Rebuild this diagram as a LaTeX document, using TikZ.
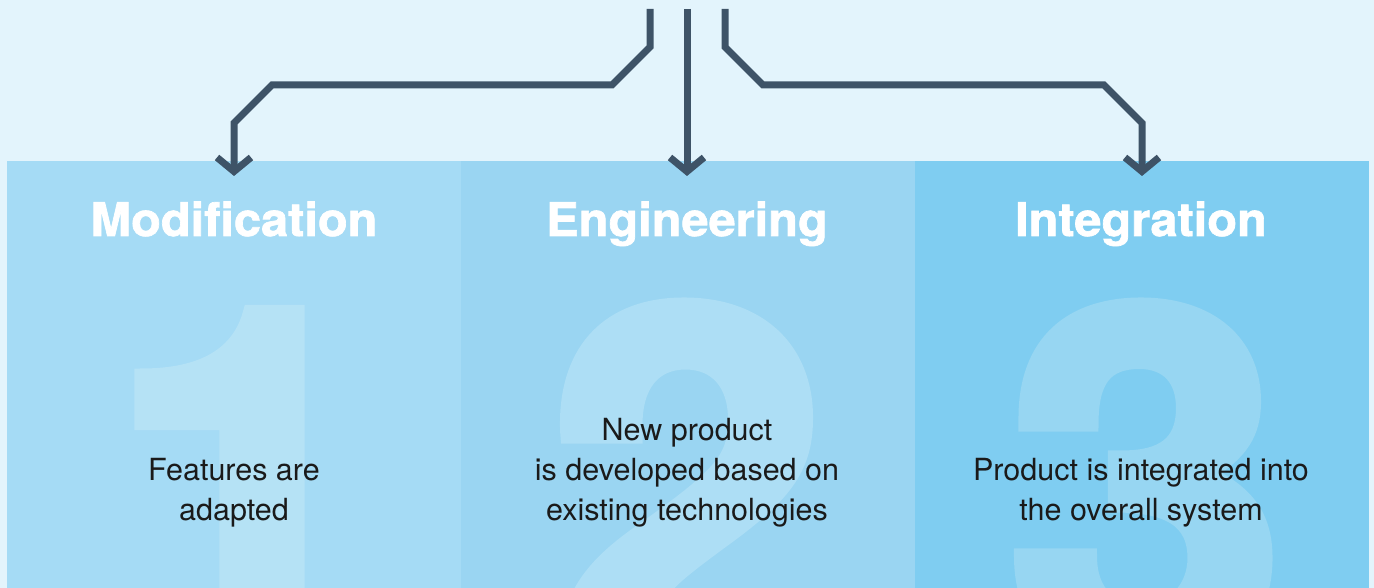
\documentclass[tikz,border=0pt]{standalone}
\usepackage{fontspec}
\setmainfont{TeX Gyre Heros}
\newfontfamily\heavyfont[FakeBold=1.5,FakeStretch=1.05]{TeX Gyre Heros Bold}
\newfontfamily\digitfont[FakeBold=3]{TeX Gyre Heros Bold}
\usetikzlibrary{arrows.meta}
\definecolor{bg}{HTML}{E3F4FC}
\definecolor{pa}{HTML}{A5DBF5}
\definecolor{pb}{HTML}{9AD5F2}
\definecolor{pc}{HTML}{7FCDF1}
\definecolor{da}{HTML}{B5E2F5}
\definecolor{db}{HTML}{ADDEF5}
\definecolor{dc}{HTML}{97D6F2}
\definecolor{ink}{HTML}{3E5367}
\definecolor{txt}{HTML}{1A1A1A}
\begin{document}
\begin{tikzpicture}[x=1pt,y=-1pt,
  conn/.style={draw=ink, line width=7pt, -{Straight Barb[length=14pt,width=34pt]}},
  title/.style={text=white, font=\fontsize{46.4}{46}\heavyfont, inner sep=0pt, anchor=base},
  body/.style={text=txt, font=\fontsize{30.5}{40}\selectfont, align=center, inner sep=0pt, anchor=base},
  digit/.style={font=\fontsize{500}{500}\digitfont, inner sep=0pt, anchor=base}]
\useasboundingbox (0,0) rectangle (1374,588);
\fill[bg] (0,0) rectangle (1374,588);
% panels
\fill[pa] (7,161) rectangle (461,588);
\fill[pb] (461,161) rectangle (915,588);
\fill[pc] (915,161) rectangle (1369,588);
% big digits
\begin{scope}
\clip (7,161) rectangle (461,588);
\node[digit, text=da] (d1) at (247,667) {1};
\end{scope}
\begin{scope}
\clip (461,161) rectangle (915,588);
\node[digit, text=db] (d2) at (687,667) {2};
\end{scope}
\begin{scope}
\clip (915,161) rectangle (1369,588);
\node[digit, text=dc] (d3) at (1146,667) {3};
\end{scope}
% titles
\node[title] (t1) at (234,236) {Modification};
\node[title] (t2) at (687,236) {Engineering};
\node[title] (t3) at (1141,236) {Integration};
% bodies (base anchor = last line)
\node[body] (b1) at (234,520) {Features are\\adapted};
\node[body] (b2) at (687,520) {New product\\is developed based on\\existing technologies};
\node[body] (b3) at (1141,520) {Product is integrated into\\the overall system};
% connector ends
\coordinate (s1) at (650,9);
\coordinate (s2) at (687,9);
\coordinate (s3) at (725,9);
\coordinate (a1) at (234,176);
\coordinate (a2) at (687,176);
\coordinate (a3) at (1142,176);
\draw[conn] (s1) -- (650,47) -- (612,85) -- (272,85) -- (234,123) -- (a1);
\draw[conn] (s2) -- (a2);
\draw[conn] (s3) -- (725,47) -- (763,85) -- (1104,85) -- (1142,123) -- (a3);
\end{tikzpicture}
\end{document}
